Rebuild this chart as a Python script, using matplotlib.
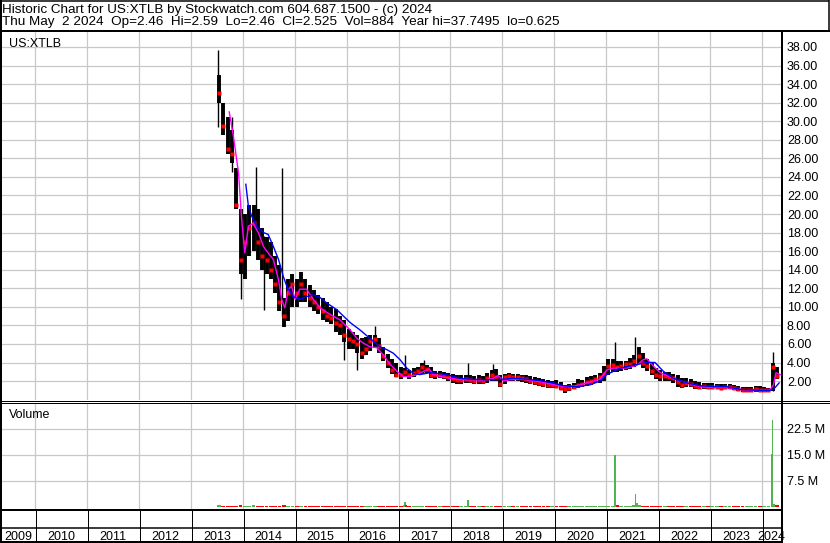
import numpy as np
import pandas as pd
import matplotlib
matplotlib.use('Agg')
import matplotlib.pyplot as plt
from matplotlib.lines import Line2D

plt.rcParams['font.family'] = ['Liberation Sans', 'DejaVu Sans']
plt.rcParams['font.size'] = 9

title_1 = 'Historic Chart for US:XTLB by Stockwatch.com 604.687.1500 - (c) 2024'
title_2 = ('Thu May  2 2024  Op=2.46  Hi=2.59  Lo=2.46  Cl=2.525  Vol=884  '
           'Year hi=37.7495  lo=0.625')
symbol = 'US:XTLB'
years = list(range(2009, 2025))

# monthly bars, Jul 2013 .. Apr 2024
months = pd.period_range('2013-07', '2024-04', freq='M')
high = [35.0, 32.0, 30.5, 29.0, 25.0, 20.5,
        20.0, 21.0, 21.0, 20.5, 18.5, 17.5, 17.0, 15.5, 14.5, 11.0, 13.0, 13.5,
        13.0, 13.8, 13.0, 12.3, 11.8, 11.3, 11.0, 10.5, 10.0, 9.8, 9.0, 8.6,
        7.6, 7.3, 7.0, 6.6, 6.7, 7.0, 7.0, 6.6, 5.7, 4.9, 4.4, 3.9,
        3.5, 3.4, 3.2, 3.4, 3.5, 3.9, 3.7, 3.5, 3.1, 3.1, 3.0, 2.9,
        2.8, 2.6, 2.6, 2.7, 2.6, 2.5, 2.6, 2.5, 2.9, 3.2, 3.3, 2.7,
        2.8, 2.9, 2.8, 2.8, 2.7, 2.6, 2.5, 2.4, 2.3, 2.2, 2.1, 2.0,
        2.1, 1.9, 1.6, 1.7, 1.8, 2.2, 2.1, 2.4, 2.5, 2.7, 2.9, 3.6,
        4.4, 4.4, 4.2, 4.2, 4.2, 4.5, 4.8, 5.7, 5.0, 4.4, 3.9, 3.4,
        3.2, 3.0, 3.0, 2.8, 2.6, 2.3, 2.3, 2.2, 2.0, 1.9, 1.8, 1.8,
        1.8, 1.7, 1.7, 1.7, 1.7, 1.6, 1.5, 1.4, 1.4, 1.4, 1.5, 1.5,
        1.4, 1.3, 4.0, 3.5]
low = [32.0, 28.5, 26.5, 25.5, 20.5, 13.5,
       13.0, 15.5, 16.0, 15.0, 14.0, 13.5, 13.0, 11.5, 9.5, 7.8, 8.5, 10.0,
       10.0, 10.5, 10.5, 10.0, 9.5, 9.2, 8.6, 8.4, 8.2, 7.3, 7.0, 6.2,
       5.5, 5.5, 5.0, 4.4, 4.8, 5.2, 5.6, 5.0, 4.2, 3.4, 2.8, 2.4,
       2.2, 2.4, 2.2, 2.4, 2.6, 2.8, 2.9, 2.3, 2.2, 2.3, 2.2, 2.0,
       1.8, 1.7, 1.7, 1.8, 1.8, 1.7, 1.7, 1.7, 1.8, 2.0, 2.0, 1.4,
       1.7, 2.0, 2.0, 2.0, 1.9, 1.8, 1.7, 1.6, 1.5, 1.4, 1.3, 1.3,
       1.2, 1.0, 0.7, 0.9, 1.1, 1.2, 1.4, 1.5, 1.6, 1.8, 1.8, 2.0,
       2.7, 3.0, 3.0, 3.1, 3.2, 3.3, 3.5, 3.8, 3.4, 3.1, 2.6, 2.2,
       2.0, 2.0, 2.0, 1.8, 1.4, 1.2, 1.4, 1.4, 1.1, 1.1, 1.1, 1.1,
       1.1, 1.2, 1.1, 1.1, 1.1, 1.0, 0.9, 0.8, 0.8, 0.8, 0.8, 0.8,
       0.8, 0.8, 0.9, 2.2]
close = [33.0, 29.5, 27.0, 26.5, 21.0, 15.0,
         17.0, 18.5, 19.0, 17.0, 15.5, 15.0, 14.0, 12.5, 10.5, 9.0, 11.5, 12.5,
         11.5, 12.5, 11.5, 11.0, 10.5, 10.0, 9.5, 9.0, 8.8, 8.3, 8.0, 7.0,
         6.5, 6.3, 6.0, 5.0, 5.5, 6.3, 6.5, 5.8, 4.7, 3.9, 3.2, 2.7,
         2.6, 3.0, 2.6, 2.9, 3.1, 3.5, 3.3, 2.7, 2.6, 2.6, 2.5, 2.4,
         2.2, 2.1, 2.1, 2.2, 2.1, 2.0, 2.1, 2.0, 2.3, 2.6, 2.4, 1.7,
         2.4, 2.5, 2.4, 2.4, 2.3, 2.2, 2.0, 1.9, 1.8, 1.7, 1.6, 1.6,
         1.5, 1.3, 1.1, 1.3, 1.4, 1.6, 1.7, 1.9, 2.0, 2.2, 2.4, 2.8,
         3.6, 3.7, 3.5, 3.6, 3.8, 3.8, 4.2, 4.7, 4.0, 3.6, 3.1, 2.7,
         2.5, 2.5, 2.4, 2.3, 1.9, 1.6, 1.8, 1.7, 1.5, 1.4, 1.5, 1.4,
         1.4, 1.4, 1.3, 1.4, 1.4, 1.2, 1.1, 1.0, 1.0, 1.0, 1.1, 1.0,
         1.0, 1.0, 3.5, 2.5]
# typical daily volume per month, millions of shares
volume = [0.5, 0.4, 0.4, 0.3, 0.4, 0.5,
          0.4, 0.4, 0.5, 0.4, 0.4, 0.3, 0.3, 0.3, 0.4, 0.5, 0.4, 0.3,
          0.3, 0.3, 0.3, 0.3, 0.3, 0.3, 0.3, 0.3, 0.3, 0.3, 0.3, 0.4,
          0.4, 0.3, 0.4, 0.3, 0.3, 0.3, 0.4, 0.3, 0.3, 0.3, 0.3, 0.4,
          0.4, 0.5, 0.3, 0.3, 0.3, 0.3, 0.4, 0.3, 0.3, 0.3, 0.3, 0.3,
          0.3, 0.3, 0.3, 0.3, 0.4, 0.3, 0.3, 0.3, 0.3, 0.3, 0.3, 0.3,
          0.3, 0.3, 0.3, 0.3, 0.3, 0.3, 0.3, 0.3, 0.3, 0.3, 0.3, 0.3,
          0.3, 0.3, 0.3, 0.3, 0.3, 0.3, 0.3, 0.3, 0.3, 0.3, 0.3, 0.3,
          0.4, 0.4, 0.6, 0.4, 0.3, 0.3, 0.5, 0.5, 0.3, 0.3, 0.3, 0.3,
          0.3, 0.3, 0.3, 0.3, 0.3, 0.3, 0.3, 0.3, 0.3, 0.3, 0.3, 0.3,
          0.3, 0.3, 0.3, 0.3, 0.3, 0.3, 0.3, 0.3, 0.3, 0.3, 0.3, 0.3,
          0.3, 0.3, 0.9, 0.5]

# single-day price spikes
spike_dates = ['2013-07-13', '2013-10-15', '2013-12-17', '2014-04-03', '2014-05-30',
               '2014-10-06', '2015-12-13', '2016-03-16', '2016-07-21', '2017-02-15',
               '2017-06-28', '2018-05-04', '2018-10-27', '2021-03-04', '2021-07-24',
               '2024-03-15']
spike_hi = [37.7, 30.4, 20.2, 25.1, 17.6, 25.0, 8.6, 6.5, 7.9, 4.8, 4.3, 3.9, 3.8, 6.2, 6.7, 5.1]
spike_lo = [29.4, 24.5, 10.8, 19.4, 9.7, 9.0, 4.3, 3.2, 5.8, 3.0, 3.0, 2.3, 2.3, 3.5, 4.0, 0.9]

# single-day volume spikes, millions
vol_spike_dates = ['2017-02-15', '2017-02-22', '2018-05-04', '2021-03-04', '2021-07-24',
                   '2021-08-04', '2024-03-08', '2024-03-15']
vol_spike = [1.4, 0.6, 2.0, 15.0, 3.75, 1.2, 15.3, 25.1]
vol_spike_up = [True, False, True, True, True, True, True, True]

# moving averages (decimal year, price)
ma_fast_t = [2013.74, 2013.82, 2013.92, 2013.95, 2013.98, 2014.04, 2014.11, 2014.20, 2014.30,
             2014.40, 2014.49, 2014.59, 2014.69, 2014.75, 2014.81, 2014.88, 2014.94, 2015.01,
             2015.10, 2015.23, 2015.36, 2015.49, 2015.62, 2015.74, 2015.87, 2016.07, 2016.20,
             2016.32, 2016.45, 2016.58, 2016.71, 2016.84, 2016.97, 2017.09, 2017.22, 2017.35,
             2017.48, 2017.59, 2017.67, 2017.80, 2017.99, 2018.18, 2018.38, 2018.63, 2018.83,
             2018.92, 2019.02, 2019.15, 2019.40, 2019.66, 2019.92, 2020.17, 2020.43, 2020.69,
             2020.88, 2021.01, 2021.14, 2021.39, 2021.59, 2021.71, 2021.78, 2021.91, 2022.04,
             2022.29, 2022.55, 2022.81, 2023.06, 2023.32, 2023.58, 2023.96, 2024.15, 2024.22,
             2024.27, 2024.35]
ma_fast = [31.0, 28.4, 24.4, 21.9, 19.4, 15.8, 18.7, 19.0, 18.0, 16.5, 15.8, 15.1, 12.9,
           10.8, 9.9, 11.9, 12.2, 10.8, 11.9, 11.9, 10.8, 9.9, 9.4, 9.0, 8.6, 7.5, 6.6, 6.1,
           5.7, 5.6, 4.8, 3.8, 3.05, 2.5, 2.5, 2.7, 3.05, 3.3, 2.7, 2.5, 2.3, 2.15, 2.15, 2.1,
           2.3, 2.6, 2.0, 2.15, 2.2, 2.0, 1.7, 1.4, 1.5, 1.9, 2.2, 3.2, 3.4, 3.4, 3.7, 4.3,
           4.4, 3.6, 2.9, 2.3, 1.8, 1.4, 1.3, 1.3, 1.1, 1.0, 1.0, 1.6, 2.9, 2.7]
ma_slow_t = [2014.06, 2014.11, 2014.17, 2014.27, 2014.40, 2014.49, 2014.59, 2014.69, 2014.78,
             2014.85, 2014.97, 2015.10, 2015.23, 2015.36, 2015.49, 2015.62, 2015.81, 2016.07,
             2016.26, 2016.45, 2016.64, 2016.77, 2016.90, 2017.03, 2017.16, 2017.29, 2017.41,
             2017.61, 2017.80, 2017.99, 2018.18, 2018.38, 2018.63, 2018.83, 2019.02, 2019.21,
             2019.47, 2019.73, 2019.98, 2020.17, 2020.43, 2020.69, 2020.88, 2021.01, 2021.27,
             2021.52, 2021.78, 2021.94, 2022.10, 2022.29, 2022.55, 2022.81, 2023.06, 2023.32,
             2023.58, 2023.96, 2024.15, 2024.22, 2024.33]
ma_slow = [23.2, 20.8, 19.8, 18.7, 18.0, 17.8, 16.5, 15.1, 13.3, 12.2, 11.1,
           10.8, 11.1, 11.3, 11.0, 10.4, 9.7,
           8.3, 7.5, 6.6, 5.7, 5.4, 5.0,
           4.3, 3.4, 2.8, 2.7, 2.9, 2.8, 2.6,
           2.3, 2.2, 2.15, 2.15,
           2.2, 2.3, 2.2, 2.05, 1.8,
           1.5, 1.4, 1.6, 2.0,
           2.7, 3.4, 3.7, 4.0, 4.0,
           3.05, 2.3, 1.8, 1.5,
           1.4, 1.4, 1.1, 1.0,
           1.0, 1.1, 1.8]

price_ticks = list(range(2, 39, 2))
vol_ticks = [7.5, 15.0, 22.5]
vol_tick_labels = ['7.5 M', '15.0 M', '22.5 M']


def dec_year(dates):
    d = pd.to_datetime(pd.Series(dates))
    days = np.where(d.dt.is_leap_year, 366, 365)
    return (d.dt.year + (d.dt.dayofyear - 0.5) / days).to_numpy()


W, H = 830, 543
PX_YEAR = (762 - 35) / 14.0


def x2t(x):
    return 2010 + (x - 35) / PX_YEAR


def t2x(t):
    return 35 + (t - 2010) * PX_YEAR


fig = plt.figure(figsize=(W / 100, H / 100), dpi=100)


def fline(x0, y0, x1, y1, lw_px, color='k'):
    fig.add_artist(Line2D([x0 / W, x1 / W], [1 - y0 / H, 1 - y1 / H], lw=lw_px * 0.72,
                          color=color, solid_capstyle='butt'))


def ftext(x, y, s, size=9, **kw):
    fig.text(x / W, 1 - y / H, s, fontsize=size, color='k', va='baseline', **kw)


grid_kw = dict(color='#c8c8c8', lw=0.9)

t_month = np.asarray(months.year + (months.month - 0.5) / 12.0, dtype=float)
t_spike = dec_year(spike_dates)
t_vspike = dec_year(vol_spike_dates)

# price panel
ax = fig.add_axes([1 / W, 1 - 400 / H, 780 / W, 368 / H])
ax.set_xlim(x2t(1), x2t(781))
ax.set_ylim(-0.04, 39.61)
ax.set_xticks(range(2010, 2025))
ax.set_yticks(price_ticks)
ax.set_yticklabels(['%.2f' % v for v in price_ticks])
ax.yaxis.tick_right()
ax.tick_params(axis='y', length=0, pad=4.3, labelsize=9)
ax.tick_params(axis='x', length=0, labelbottom=False)
ax.grid(True, **grid_kw)
ax.set_axisbelow(True)
for s in ax.spines.values():
    s.set_visible(False)

ax.vlines(t_month, low, high, color='k', lw=2.8, zorder=2)
ax.vlines(t_spike, spike_lo, spike_hi, color='k', lw=1.0, zorder=2)
ax.plot(t_month, close, 's', color='#ff0000', ms=2.6, mec='none', zorder=3)
ax.plot(ma_fast_t, ma_fast, color='#ff00ff', lw=1.0, zorder=4)
ax.plot(ma_slow_t, ma_slow, color='#0000ff', lw=1.0, zorder=4)

# volume panel
axv = fig.add_axes([1 / W, 1 - 509 / H, 780 / W, 106 / H])
axv.set_xlim(x2t(1), x2t(781))
axv.set_ylim(-0.577, 30.0)
axv.set_xticks(range(2010, 2025))
axv.set_yticks(vol_ticks)
axv.set_yticklabels(vol_tick_labels)
axv.yaxis.tick_right()
axv.tick_params(axis='y', length=0, pad=4.3, labelsize=9)
axv.tick_params(axis='x', length=0, labelbottom=False)
axv.grid(True, **grid_kw)
axv.set_axisbelow(True)
for s in axv.spines.values():
    s.set_visible(False)

up = np.r_[True, np.diff(close) >= 0]
axv.bar(t_month, volume, width=0.9 / 12, color=np.where(up, '#50b450', '#ff0000'),
        linewidth=0, zorder=2)
axv.bar(t_vspike, vol_spike, width=1.4 / PX_YEAR,
        color=np.where(vol_spike_up, '#50b450', '#ff0000'), linewidth=0, zorder=3)

# frame lines
fline(0, 0.5, 829, 0.5, 1.5)
fline(828.5, 0, 828.5, 32, 1.5)
fline(0, 31, 830, 31, 2)
fline(1, 0, 1, 543, 2)
fline(781.5, 31, 781.5, 543, 2)
fline(0, 400.5, 830, 400.5, 1)
fline(0, 403, 830, 403, 1)
fline(0, 509.5, 782, 509.5, 2)
fline(0, 527.5, 782, 527.5, 1.5)
fline(0, 541.5, 782, 541.5, 2)
for yr in years[1:]:
    xb = round(t2x(yr)) + 0.5
    fline(xb, 509, xb, 542, 1)

# texts
ftext(2, 12.5, title_1, size=9.7)
ftext(2, 25.5, title_2, size=9.7)
ftext(9, 46.5, symbol)
ftext(9, 418, 'Volume')
for yr in years:
    x0 = max(t2x(yr), 1)
    x1 = min(t2x(yr + 1), 781)
    ftext((x0 + x1) / 2, 539.5, str(yr), ha='center')

fig.savefig('out.png', dpi=100)
